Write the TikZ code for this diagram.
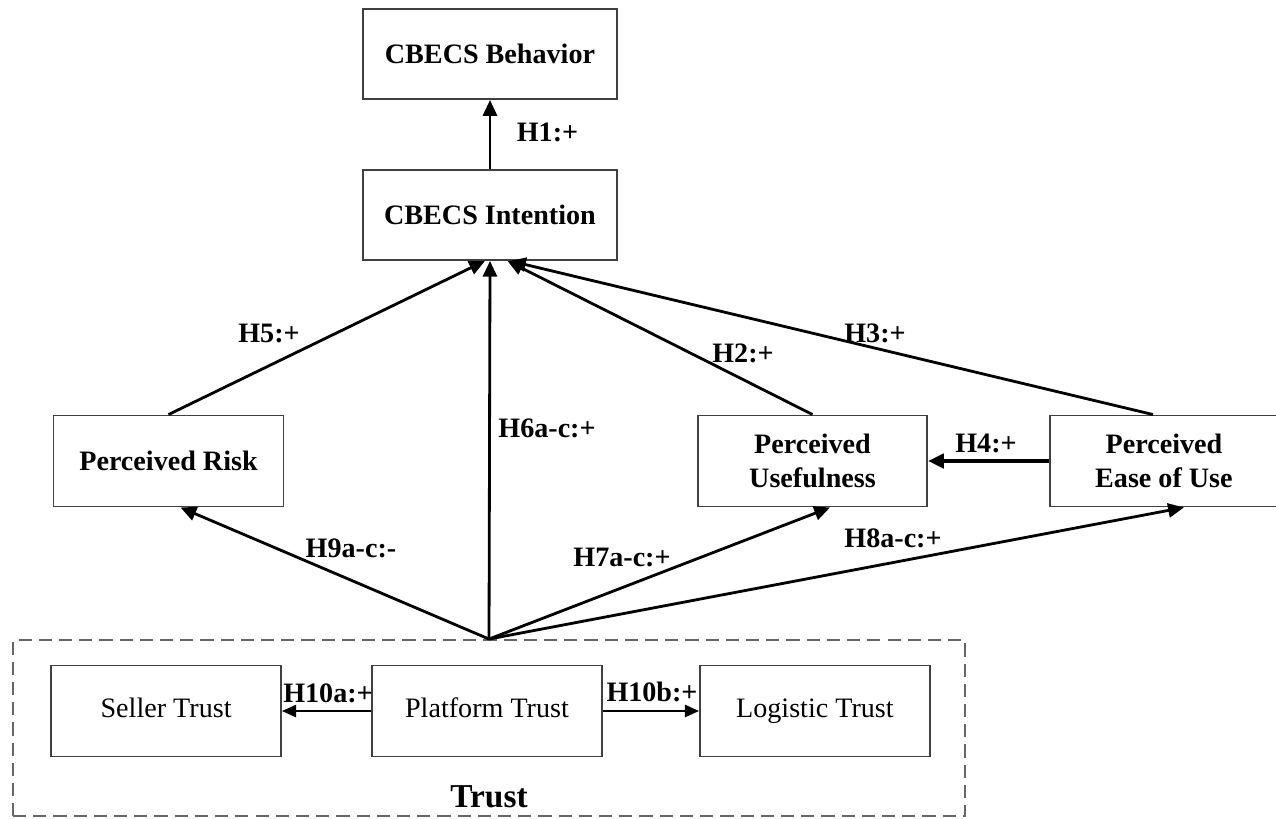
\documentclass[tikz,border=0pt]{standalone}
\usepackage{fontspec}
\setmainfont{Liberation Serif}
\usetikzlibrary{arrows.meta,positioning,fit}

\begin{document}
\begin{tikzpicture}[
    node distance=1.38cm and 2.42cm,
    conbox/.style={rectangle, draw=black!75, line width=1.1pt, minimum width=4.6cm, minimum height=1.82cm, align=center, font=\fontsize{16}{19}\selectfont\bfseries},
    subbox/.style={conbox, font=\fontsize{16}{19}\selectfont, execute at begin node=\strut},
    hyplabel/.style={font=\fontsize{16}{19}\selectfont\bfseries, inner sep=1pt},
    arrow/.style={-{Triangle[length=9pt,width=8pt]}, line width=1.6pt},
    thinarrow/.style={-{Triangle[length=8pt,width=7pt]}, line width=1pt}
]

\useasboundingbox (0,0) rectangle (25.52,-16.36);

% === Outcome (top) ===
\node[conbox, minimum width=5.08cm, minimum height=1.8cm] (behavior) at (9.8,-1.08) {CBECS Behavior};
\node[conbox, minimum width=5.08cm, minimum height=1.8cm, below=1.38cm of behavior] (intention) {CBECS Intention};

% === Beliefs (middle row) ===
\node[conbox] (risk) at (3.37,-9.22) {Perceived Risk};
\node[conbox, minimum width=4.58cm] (useful) at (16.25,-9.22) {Perceived\\Usefulness};
\node[conbox, minimum width=4.56cm, right=2.42cm of useful] (ease) {Perceived\\Ease of Use};

% === Trust dimensions (bottom row) ===
\node[subbox] (platform) at (9.74,-14.22) {Platform Trust};
\node[subbox, left=1.78cm of platform] (seller) {Seller Trust};
\node[subbox, right=1.92cm of platform] (logistic) {Logistic Trust};
\node[font=\fontsize{19}{22}\selectfont\bfseries] (trustlabel) at (9.78,-15.94) {Trust};
\node[fit={(0.26,-12.8) (19.3,-16.32)}, inner sep=0pt, draw=black!60, line width=1.1pt, dash pattern=on 7.5pt off 4pt] (trustframe) {};

% === Hypothesised paths ===
\draw[arrow] (intention.north) -- (behavior.south);
\draw[arrow] (risk.north) -- ([xshift=-0.1cm]intention.south);
\draw[arrow] (trustframe.north) -- (intention.south);
\draw[arrow] (useful.north) -- ([xshift=0.35cm]intention.south);
\draw[arrow] ([xshift=-0.22cm]ease.north) -- ([xshift=0.4cm]intention.south);
\draw[arrow, line width=2.2pt] (ease.west) -- (useful.east);
\draw[arrow] (trustframe.north) -- ([xshift=0.24cm]risk.south);
\draw[arrow] (trustframe.north) -- ([xshift=0.35cm]useful.south);
\draw[arrow] (trustframe.north) -- ([xshift=0.4cm]ease.south);
\draw[thinarrow] (platform.west) -- (seller.east);
\draw[thinarrow] (platform.east) -- (logistic.west);

% === Path labels ===
\node[hyplabel] (h1) at (10.95,-2.64) {H1:+};
\node[hyplabel] (h5) at (5.38,-6.66) {H5:+};
\node[hyplabel] (h6) at (10.94,-8.56) {H6a-c:+};
\node[hyplabel] (h2) at (14.86,-7.06) {H2:+};
\node[hyplabel] (h3) at (17.5,-6.66) {H3:+};
\node[hyplabel] (h4) at (19.72,-8.86) {H4:+};
\node[hyplabel] (h9) at (7.02,-10.96) {H9a-c:-};
\node[hyplabel] (h7) at (12.44,-11.14) {H7a-c:+};
\node[hyplabel] (h8) at (17.86,-10.76) {H8a-c:+};
\node[hyplabel] (h10a) at (6.56,-13.86) {H10a:+};
\node[hyplabel] (h10b) at (13.04,-13.84) {H10b:+};

\end{tikzpicture}
\end{document}
